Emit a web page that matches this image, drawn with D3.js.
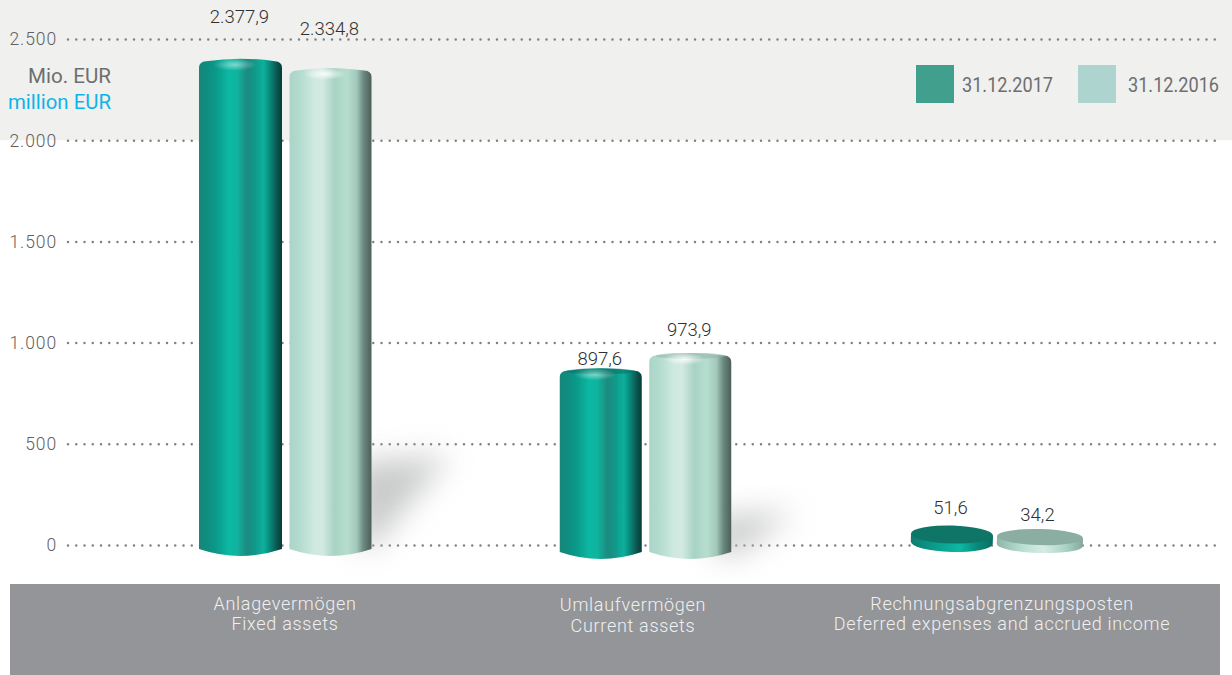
<!DOCTYPE html>
<html><head><meta charset="utf-8">
<script src="https://cdn.jsdelivr.net/npm/d3@7"></script>
<style>html,body{margin:0;padding:0;background:#fff}svg{display:block}</style></head>
<body><svg id="c" width="1232" height="675"></svg>
<script>
const categoriesDe=["Anlagevermögen","Umlaufvermögen","Rechnungsabgrenzungsposten"];
const categoriesEn=["Fixed assets","Current assets","Deferred expenses and accrued income"];
const series2017=[2377.9,897.6,51.6];
const series2016=[2334.8,973.9,34.2];
const seriesNames=["31.12.2017","31.12.2016"];
const yTicks=[0,500,1000,1500,2000,2500];

const svg=d3.select("#c"),defs=svg.append("defs");
const loc=d3.formatLocale({decimal:",",thousands:".",grouping:[3],currency:["","€"]});
const fmtAxis=loc.format(",d"),fmtVal=loc.format(",.1f");
const y=d3.scaleLinear().domain([0,2500]).range([545,39]);
const x=d3.scalePoint().domain(categoriesDe).range([285.5,997]);
const barW=[83,82,82,82,82,86];

function grad(id,stops){const g=defs.append("linearGradient").attr("id",id);
 stops.forEach(s=>g.append("stop").attr("offset",s[0]).attr("stop-color",s[1]));}
grad("dark",[[0,"#17877a"],[.1,"#0f8d80"],[.22,"#0a9c8c"],[.36,"#0cb9a3"],[.46,"#10b39e"],[.58,"#1c8a7f"],[.68,"#109a8b"],[.78,"#0bb19d"],[.87,"#0a7f73"],[.95,"#0a4f49"],[1,"#063c38"]]);
grad("light",[[0,"#a9d5c7"],[.12,"#b3dbcf"],[.3,"#cfe9df"],[.4,"#d2eae1"],[.55,"#a8d3c4"],[.7,"#b6dece"],[.82,"#a3c8bb"],[.9,"#6c8a81"],[1,"#4d5e59"]]);
grad("discD",[[0,"#0d7c70"],[.3,"#0a9c8c"],[.6,"#0cb9a3"],[.8,"#0a8a7c"],[1,"#0a6f65"]]);
grad("discL",[[0,"#8fb5a8"],[.3,"#b9dfd1"],[.55,"#d6ece4"],[.8,"#a9d3c4"],[1,"#86a89c"]]);
const rg=defs.append("radialGradient").attr("id","hl");
rg.append("stop").attr("offset",0).attr("stop-color","#fff").attr("stop-opacity",.85);
rg.append("stop").attr("offset",1).attr("stop-color","#fff").attr("stop-opacity",0);
defs.append("filter").attr("id","blur").attr("x","-60%").attr("y","-60%").attr("width","220%").attr("height","220%")
 .append("feGaussianBlur").attr("stdDeviation",15);

svg.append("rect").attr("x",0).attr("y",0).attr("width",1232).attr("height",y(2000)).attr("fill","#f0f0ee");
svg.append("rect").attr("x",10).attr("y",584).attr("width",1210).attr("height",91).attr("fill","#939598");

const ax=svg.append("g").attr("transform","translate(68,0)")
 .call(d3.axisLeft(y).tickValues(yTicks).tickSize(-1152).tickPadding(11).tickFormat(fmtAxis));
ax.select(".domain").remove();
ax.selectAll("line").attr("stroke","#808184").attr("stroke-width",2.5).attr("stroke-linecap","round").attr("stroke-dasharray","0 8.25");
ax.selectAll("text").attr("font-family","Roboto").attr("font-weight",300).attr("font-size",17.5).attr("letter-spacing",.9).attr("fill","#5f6062").attr("dy","0.34em");

// soft shadows
const shadows=[[[355,462],[450,456],[420,490],[375,545],[355,545]],[[715,516],[795,512],[770,530],[735,555],[715,555]]];
svg.append("g").selectAll("path").data(shadows).join("path")
 .attr("d",d=>d3.line()(d)+"Z").attr("fill","#bcbdbd").attr("opacity",.8).attr("filter","url(#blur)");

const nudge=[0,4.5,0], spread=[[-45,45],[-45,44.5],[-45,43]];
const topOff=[[-5,-4.5],[5,5],[-9,-9]];
const baseY=[556,559,553];
const labelUp=[[36,33],[3,17],[12,8]];
const bars=[];
categoriesDe.forEach((c,i)=>{[series2017[i],series2016[i]].forEach((v,j)=>{
 const idx=i*2+j,w=barW[idx];
 bars.push({c,i,j,v,w,cx:x(c)+nudge[i]+spread[i][j],top:y(v)+topOff[i][j],base:baseY[i]-(i==2&&j==0?1:0)});
});});
const g=svg.append("g");
bars.filter(b=>b.i<2).forEach(b=>{
 const L=b.cx-b.w/2,R=b.cx+b.w/2,t=b.top,B=b.base;
 const p=d3.path();
 p.moveTo(L,t+9);p.quadraticCurveTo(L,t+3,L+7,t+2.5);
 p.quadraticCurveTo(b.cx,t-2.5,R-7,t+2.5);p.quadraticCurveTo(R,t+3,R,t+9);
 p.lineTo(R,B-7);p.quadraticCurveTo(b.cx,B+7,L,B-7);p.closePath();
 g.append("path").attr("d",p.toString()).attr("fill",b.j?"url(#light)":"url(#dark)");
 if(b.i==1) g.append("ellipse").attr("cx",b.cx).attr("cy",t+3).attr("rx",b.w/2-6).attr("ry",3)
  .attr("fill",b.j?"#8fb5a9":"#0b6f66").attr("opacity",.55);
 g.append("ellipse").attr("cx",b.cx-b.w*.07).attr("cy",t+6).attr("rx",b.w*.26).attr("ry",6)
  .attr("fill","url(#hl)").attr("opacity",b.j?1:.55);
});
bars.filter(b=>b.i==2).forEach(b=>{
 const L=b.cx-b.w/2,R=b.cx+b.w/2,t=b.top,ry=b.j?8:9,cy=t+ry,h=8,rb=b.base-(cy+h);
 const d=g.append("g").attr("transform",`rotate(1.5 ${b.cx} ${cy})`);
 d.append("path").attr("d",`M${L},${cy}L${L},${cy+h}A${b.w/2},${rb} 0 0 0 ${R},${cy+h}L${R},${cy}Z`)
  .attr("fill",b.j?"url(#discL)":"url(#discD)");
 d.append("ellipse").attr("cx",b.cx).attr("cy",cy).attr("rx",b.w/2).attr("ry",ry).attr("fill",b.j?"#8aaea1":"#0f7567");
});

svg.append("g").selectAll("text").data(bars).join("text")
 .attr("x",d=>d.cx-(d.i==2?1.5+d.j:1)).attr("y",d=>d.top-labelUp[d.i][d.j]).attr("text-anchor","middle")
 .attr("font-family","Roboto").attr("font-weight",300).attr("font-size",18.5).attr("fill","#2f3032")
 .text(d=>fmtVal(d.v));

const unit=svg.append("g").attr("font-family","Roboto").attr("font-size",20).attr("text-anchor","end");
unit.append("text").attr("x",111).attr("y",83).attr("fill","#6d6e70").attr("textLength",83).attr("lengthAdjust","spacingAndGlyphs").text("Mio. EUR");
unit.append("text").attr("x",111).attr("y",109).attr("fill","#0db4ea").attr("textLength",103).attr("lengthAdjust","spacingAndGlyphs").text("million EUR");

const lg=svg.append("g").selectAll("g").data(seriesNames).join("g");
lg.append("rect").attr("x",(d,i)=>i?1078:916).attr("y",65).attr("width",38).attr("height",38).attr("fill",(d,i)=>i?"#aed4d0":"#419f8d");
lg.append("text").attr("x",(d,i)=>i?1128:962).attr("y",92).attr("font-family","Roboto").attr("font-size",20).attr("textLength",91).attr("lengthAdjust","spacingAndGlyphs").attr("fill","#6d6e70").text(d=>d);

const labelX=[285,633,1002], labelY=[[610,630],[611,632],[610,630]];
const cat=svg.append("g").attr("font-family","Roboto").attr("font-weight",300).attr("font-size",18).attr("letter-spacing",.7).attr("fill","#f0f0f0").attr("text-anchor","middle");
categoriesDe.forEach((c,i)=>{
 cat.append("text").attr("x",labelX[i]).attr("y",labelY[i][0]).text(c);
 cat.append("text").attr("x",labelX[i]).attr("y",labelY[i][1]).text(categoriesEn[i]);
});
</script></body></html>
